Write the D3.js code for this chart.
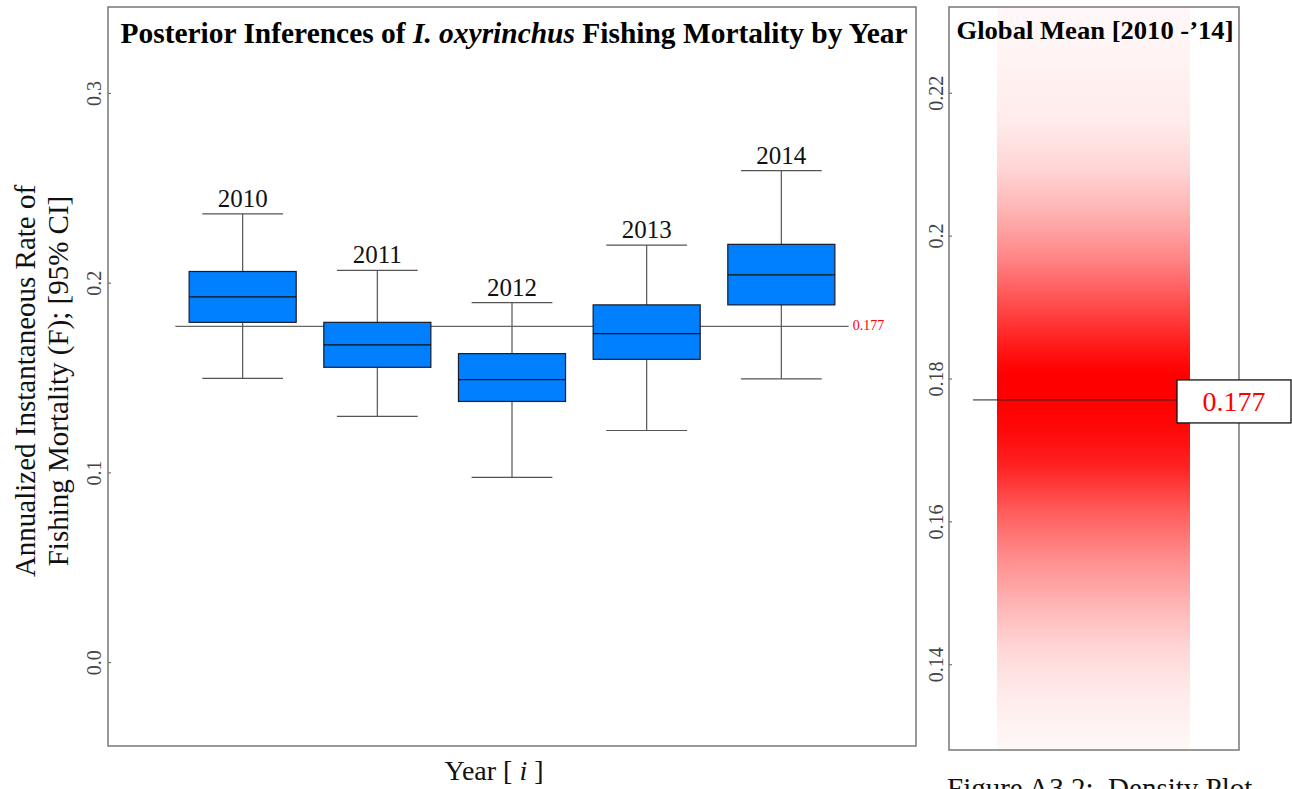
<!DOCTYPE html>
<html lang="en"><head>
<meta charset="utf-8">
<title>Fishing Mortality</title>
<script src="https://cdnjs.cloudflare.com/ajax/libs/d3/7.8.5/d3.min.js"></script>
<style>
  body { margin: 0; background: #fff; }
  svg { display: block; font-family: "Liberation Serif", "Times New Roman", serif; }
</style>
</head>
<body>
<svg id="chart" width="1292" height="789"></svg>
<script>
// posterior summaries of F by year
var years = [2010, 2011, 2012, 2013, 2014];
var lowCI  = [0.1496, 0.1295, 0.0974, 0.1221, 0.1493];
var q1     = [0.1791, 0.1554, 0.1374, 0.1596, 0.1883];
var median = [0.1925, 0.1672, 0.1489, 0.1732, 0.2041];
var q3     = [0.2059, 0.1791, 0.1626, 0.1883, 0.2202];
var highCI = [0.2363, 0.2065, 0.1895, 0.2198, 0.2591];
var globalMean = 0.177;
var leftTicks = [0.0, 0.1, 0.2, 0.3];
var rightTicks = [0.14, 0.16, 0.18, 0.2, 0.22];
// density strip of the global mean: value -> red opacity
var densVal   = [0.232, 0.2257, 0.216, 0.2096, 0.2033, 0.1968, 0.1904, 0.1839, 0.1807, 0.1768, 0.173, 0.1678, 0.1614, 0.1549, 0.1486, 0.1422, 0.1357, 0.130, 0.128];
var densAlpha = [0.03, 0.04, 0.08, 0.16, 0.3, 0.48, 0.7, 0.92, 1, 1, 0.97, 0.87, 0.64, 0.45, 0.3, 0.16, 0.08, 0.04, 0.03];

var svg = d3.select("#chart");
var L = {x0: 108, x1: 916, y0: 7, y1: 746};
var R = {x0: 949, x1: 1239, y0: 7, y1: 750};

var x = d3.scaleLinear().domain([2009, 2015]).range([L.x0, L.x1]);
var y = d3.scaleLinear().domain([-0.0442, 0.3453]).range([L.y1, L.y0]);
var yR = d3.scaleLinear().domain([0.128, 0.232]).range([R.y1, R.y0]);

// ---- left panel ----
var left = svg.append("g");

var yAxis = d3.axisLeft(y).tickValues(leftTicks).tickSize(-3).tickFormat(d3.format(".1f"));
left.append("g").attr("transform", "translate(" + L.x0 + ",0)").call(yAxis)
  .call(function(g){ g.select(".domain").remove(); })
  .call(function(g){
    g.selectAll("line").attr("stroke", "#555");
    g.selectAll("text").attr("x", null).attr("dy", null)
      .attr("transform", "translate(-7,0) rotate(-90)")
      .attr("text-anchor", "middle")
      .style("font-family", "Liberation Serif").style("font-size", "20px").attr("fill", "#444");
  });

// reference line at global mean
left.append("line")
  .attr("x1", x(2009.5)).attr("x2", x(2014.5))
  .attr("y1", y(globalMean)).attr("y2", y(globalMean))
  .attr("stroke", "#666").attr("stroke-width", 1.2);
left.append("text")
  .attr("x", x(2014.5) + 4).attr("y", y(globalMean) + 4)
  .attr("fill", "red").style("font-size", "14px")
  .text(globalMean.toFixed(3));

var boxW = 0.795, capW = 0.6;
var boxes = left.selectAll("g.box").data(years).enter().append("g").attr("class", "box");

boxes.append("line")
  .attr("x1", function(d){ return x(d); }).attr("x2", function(d){ return x(d); })
  .attr("y1", function(d, i){ return y(lowCI[i]); }).attr("y2", function(d, i){ return y(highCI[i]); })
  .attr("stroke", "#555").attr("stroke-width", 1.2);
boxes.append("line")
  .attr("x1", function(d){ return x(d - capW / 2); }).attr("x2", function(d){ return x(d + capW / 2); })
  .attr("y1", function(d, i){ return y(highCI[i]); }).attr("y2", function(d, i){ return y(highCI[i]); })
  .attr("stroke", "#555").attr("stroke-width", 1.2);
boxes.append("line")
  .attr("x1", function(d){ return x(d - capW / 2); }).attr("x2", function(d){ return x(d + capW / 2); })
  .attr("y1", function(d, i){ return y(lowCI[i]); }).attr("y2", function(d, i){ return y(lowCI[i]); })
  .attr("stroke", "#555").attr("stroke-width", 1.2);
boxes.append("rect")
  .attr("x", function(d){ return x(d - boxW / 2); })
  .attr("width", function(d){ return x(d + boxW / 2) - x(d - boxW / 2); })
  .attr("y", function(d, i){ return y(q3[i]); })
  .attr("height", function(d, i){ return y(q1[i]) - y(q3[i]); })
  .attr("fill", "#0080ff").attr("stroke", "#1a1a2a").attr("stroke-width", 1.2);
boxes.append("line")
  .attr("x1", function(d){ return x(d - boxW / 2); }).attr("x2", function(d){ return x(d + boxW / 2); })
  .attr("y1", function(d, i){ return y(median[i]); }).attr("y2", function(d, i){ return y(median[i]); })
  .attr("stroke", "#111").attr("stroke-width", 1.2);
boxes.append("text")
  .attr("x", function(d){ return x(d); })
  .attr("y", function(d, i){ return y(highCI[i]) - 7; })
  .attr("text-anchor", "middle").style("font-size", "25px").attr("fill", "#111")
  .text(function(d){ return d; });

left.append("rect")
  .attr("x", L.x0).attr("y", L.y0).attr("width", L.x1 - L.x0).attr("height", L.y1 - L.y0)
  .attr("fill", "none").attr("stroke", "#777").attr("stroke-width", 1.5);

var t1 = left.append("text").attr("x", 514).attr("y", 43)
  .attr("text-anchor", "middle").style("font-size", "29px").style("font-weight", "bold")
  .attr("textLength", 787).attr("lengthAdjust", "spacingAndGlyphs");
t1.append("tspan").text("Posterior Inferences of ");
t1.append("tspan").style("font-style", "italic").text("I. oxyrinchus");
t1.append("tspan").text(" Fishing Mortality by Year");

var ylab = left.append("text").attr("transform", "translate(0,381) rotate(-90)")
  .attr("text-anchor", "middle").style("font-size", "29px").attr("fill", "#111");
ylab.append("tspan").attr("x", 0).attr("y", 35).text("Annualized Instantaneous Rate of");
ylab.append("tspan").attr("x", 0).attr("y", 68).text("Fishing Mortality (F); [95% CI]");

var xlab = left.append("text").attr("x", 494).attr("y", 780)
  .attr("text-anchor", "middle").style("font-size", "28px").attr("fill", "#111");
xlab.append("tspan").text("Year [ ");
xlab.append("tspan").style("font-style", "italic").text("i");
xlab.append("tspan").text(" ]");

// ---- right panel ----
var right = svg.append("g");
var grad = svg.append("defs").append("linearGradient").attr("id", "dens")
  .attr("gradientUnits", "userSpaceOnUse")
  .attr("x1", 0).attr("x2", 0).attr("y1", R.y0).attr("y2", R.y1);
grad.selectAll("stop").data(densVal).enter().append("stop")
  .attr("offset", function(d){ return (yR(d) - R.y0) / (R.y1 - R.y0); })
  .attr("stop-color", "red")
  .attr("stop-opacity", function(d, i){ return densAlpha[i]; });

right.append("rect")
  .attr("x", 997).attr("width", 193)
  .attr("y", R.y0).attr("height", R.y1 - R.y0)
  .attr("fill", "url(#dens)");

var yAxisR = d3.axisLeft(yR).tickValues(rightTicks).tickSize(-3).tickFormat(function(d){ return d3.format("")(+d.toFixed(2)); });
right.append("g").attr("transform", "translate(" + R.x0 + ",0)").call(yAxisR)
  .call(function(g){ g.select(".domain").remove(); })
  .call(function(g){
    g.selectAll("line").attr("stroke", "#555");
    g.selectAll("text").attr("x", null).attr("dy", null)
      .attr("transform", "translate(-6,0) rotate(-90)")
      .attr("text-anchor", "middle")
      .style("font-family", "Liberation Serif").style("font-size", "20px").attr("fill", "#444");
  });

right.append("rect")
  .attr("x", R.x0).attr("y", R.y0).attr("width", R.x1 - R.x0).attr("height", R.y1 - R.y0)
  .attr("fill", "none").attr("stroke", "#777").attr("stroke-width", 1.5);

right.append("text").attr("x", 1095).attr("y", 39)
  .attr("text-anchor", "middle").style("font-size", "26px").style("font-weight", "bold")
  .attr("textLength", 277).attr("lengthAdjust", "spacingAndGlyphs")
  .text("Global Mean [2010 -\u201914]");

right.append("line")
  .attr("x1", 973).attr("x2", 1177)
  .attr("y1", yR(globalMean)).attr("y2", yR(globalMean))
  .attr("stroke", "#222").attr("stroke-width", 1);
right.append("rect")
  .attr("x", 1177).attr("y", yR(globalMean) - 20).attr("width", 114).attr("height", 43)
  .attr("fill", "#fff").attr("stroke", "#111").attr("stroke-width", 1.3);
right.append("text")
  .attr("x", 1234).attr("y", yR(globalMean) + 11)
  .attr("text-anchor", "middle").attr("fill", "red").style("font-size", "28px")
  .text(globalMean.toFixed(3));

// caption below, cut by the page edge as in the original
svg.append("text").attr("x", 947).attr("y", 798)
  .attr("xml:space", "preserve").style("white-space", "pre")
  .style("font-size", "29px").attr("fill", "#111")
  .text("Figure A3.2:  Density Plot");
</script>
</body></html>
